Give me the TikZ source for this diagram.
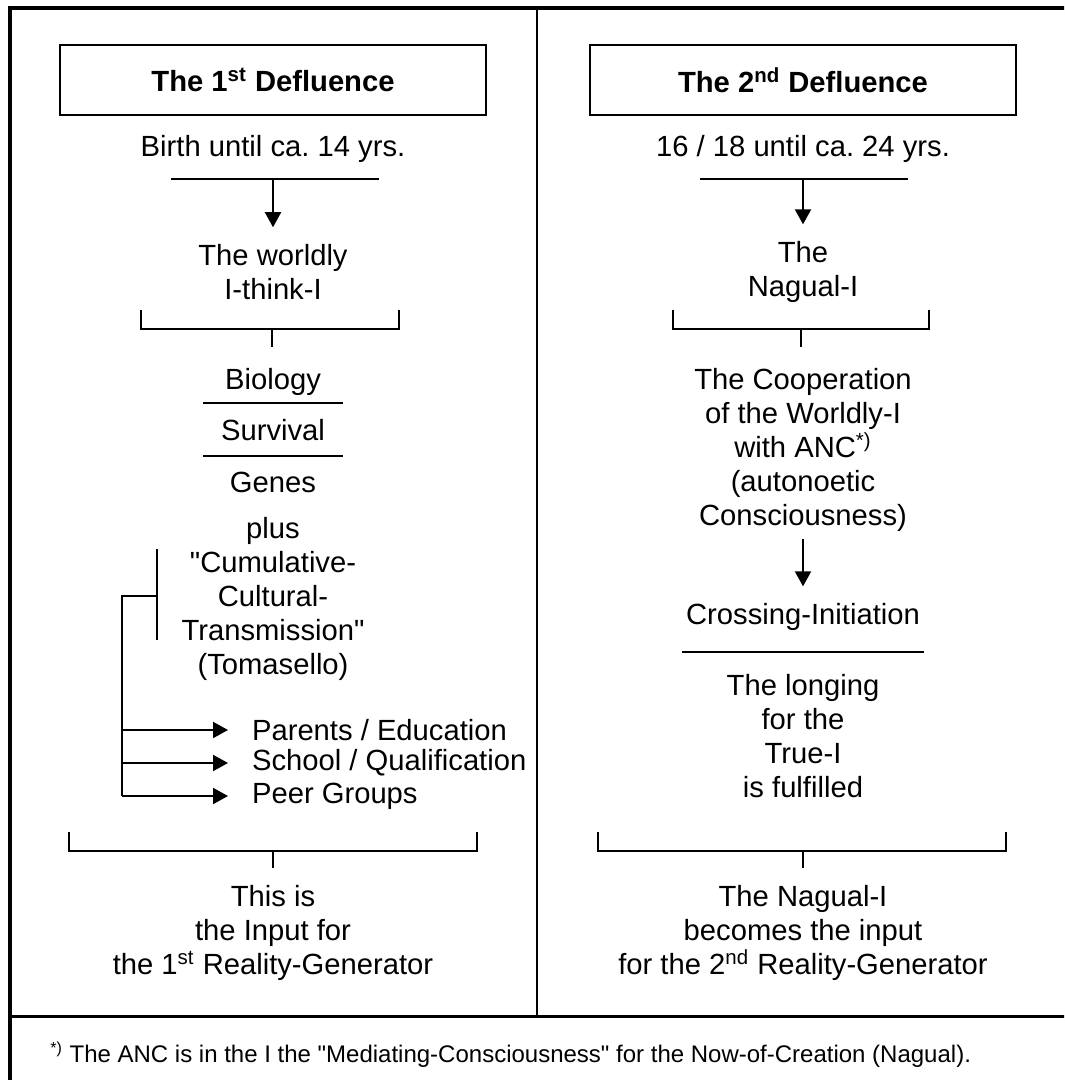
\documentclass[tikz,border=0pt]{standalone}
\usepackage{fontspec}
\setmainfont{Liberation Sans}
\usetikzlibrary{arrows.meta}
\frenchspacing

\tikzset{
    txt/.style={align=center, font=\fontsize{14.6}{17}\selectfont},
    titlebox/.style={draw, line width=1pt, minimum width=213pt, minimum height=35pt,
        font=\fontsize{14.6}{17}\selectfont\bfseries},
    flow/.style={-{Triangle[width=8pt,length=7.5pt]}, line width=1pt},
    rule/.style={line width=0.8pt},
}

\begin{document}
\begin{tikzpicture}[x=0.5pt,y=-0.5pt]
    \useasboundingbox (0,0) rectangle (1064,1080);
    \fill[white] (0,0) rectangle (1064,1080);
    \clip (0,0) rectangle (1064,1080);
    % frame, divider and footnote rule
    \draw[line width=2pt] (9.5,1100) -- (9.5,8) -- (1100,8);
    \draw[line width=1pt] (537,8) -- (537,1016);
    \draw[line width=1.5pt] (9.5,1016) -- (1100,1016);

    % left column
    \node[titlebox] (def1) at (273,80) {The 1\textsuperscript{st} Defluence};
    \node[txt] (age1) at (273,149) {Birth until ca. 14 yrs.};
    \draw[rule] (171,179) -- (379,179);
    \coordinate (age1r) at (273,179);
    \node[txt] (ego1) at (273,272) {The worldly\\I-think-I};
    \draw[flow, shorten >=5pt] (age1r) -- (ego1.north);
    \draw[rule] (141,310) -- (141,329) -- (399,329) -- (399,310);
    \draw[rule] (272,329) -- (272,347);
    \node[txt] (bio) at (273,382) {Biology};
    \draw[rule] (203,403) -- (343,403);
    \node[txt] (surv) at (273,430) {Survival};
    \draw[rule] (203,456) -- (343,456);
    \node[txt] (genes) at (273,482) {Genes};
    \node[txt] (plus) at (273,599) {plus\\\textquotedbl Cumulative-\\Cultural-\\Transmission\textquotedbl\\(Tomasello)};
    \draw[rule] (157,549) -- (157,640);
    \draw[rule] (157,596) -- (122,596) -- (122,796);
    \node[txt, anchor=west] (parents) at (245,730) {Parents / Education};
    \node[txt, anchor=west] (school) at (245,763) {School / Qualification};
    \node[txt, anchor=west] (peers) at (245,796) {Peer Groups};
    \draw[flow, shorten >=8.5pt] (122,730) -- (parents.west);
    \draw[flow, shorten >=8.5pt] (122,763) -- (school.west);
    \draw[flow, shorten >=8.5pt] (122,796) -- (peers.west);
    \draw[rule] (69,832) -- (69,851) -- (477,851) -- (477,832);
    \draw[rule] (273,851) -- (273,868);
    \node[txt] (out1) at (273,933) {This is\\the Input for\\the 1\textsuperscript{st} Reality-Generator};

    % right column
    \node[titlebox] (def2) at (803,80) {The 2\textsuperscript{nd} Defluence};
    \node[txt] (age2) at (803,149) {16 / 18 until ca. 24 yrs.};
    \draw[rule] (700,179) -- (908,179);
    \coordinate (age2r) at (803,179);
    \node[txt] (ego2) at (803,272) {The\\Nagual-I};
    \draw[flow, shorten >=5pt] (age2r) -- (ego2.north);
    \draw[rule] (673,310) -- (673,329) -- (929,329) -- (929,310);
    \draw[rule] (801,329) -- (801,347);
    \node[txt] (coop) at (803,450) {The Cooperation\\of the Worldly-I\\with ANC\textsuperscript{*)}\\(autonoetic\\Consciousness)};
    \node[txt] (cross) at (803,617) {Crossing-Initiation};
    \draw[flow, shorten >=5pt] (coop.south) -- (cross.north);
    \draw[rule] (682,652) -- (924,652);
    \node[txt] (long) at (803,736) {The longing\\for the\\True-I\\is fulfilled};
    \draw[rule] (598,832) -- (598,851) -- (1006,851) -- (1006,832);
    \draw[rule] (803,851) -- (803,868);
    \node[txt] (out2) at (803,933) {The Nagual-I\\becomes the input\\for the 2\textsuperscript{nd} Reality-Generator};

    % footnote
    \node[anchor=west, inner sep=0pt, font=\fontsize{12}{14}\selectfont] (note) at (50,1055)
        {\textsuperscript{*)} The ANC is in the I the \textquotedbl Mediating-Consciousness\textquotedbl{} for the Now-of-Creation (Nagual).};
\end{tikzpicture}
\end{document}
